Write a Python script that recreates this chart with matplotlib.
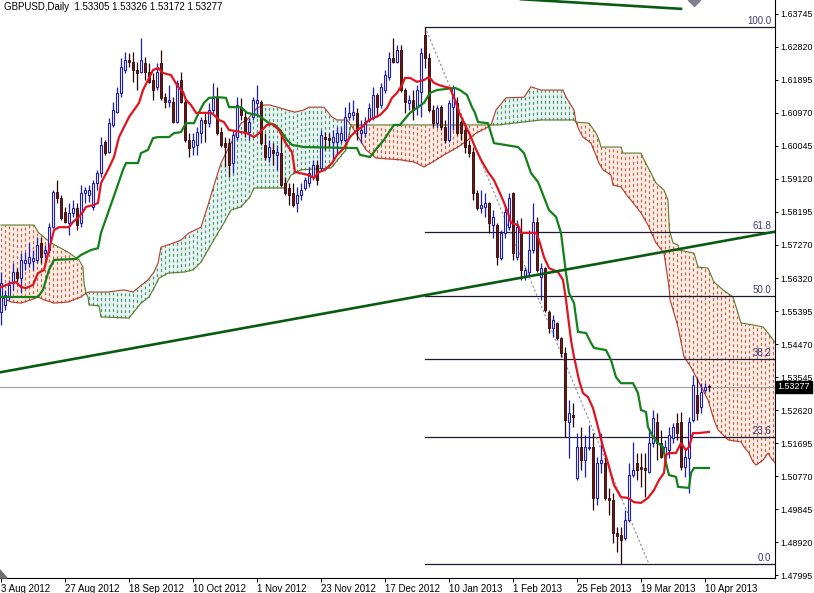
import numpy as np
import matplotlib
matplotlib.use('Agg')
import matplotlib.pyplot as plt
from matplotlib.patches import Polygon

plt.rcParams['font.family'] = ['Liberation Sans', 'DejaVu Sans']
plt.rcParams['font.size'] = 7

########################################################################################################################
# DATA
########################################################################################################################

HEADER = 'GBPUSD,Daily  1.53305 1.53326 1.53172 1.53277'
LAST_PRICE = 1.53277

opens = [1.5538, 1.5558, 1.5580, 1.5619, 1.5650, 1.5633, 1.5675, 1.5675, 1.5681, 1.5684,
         1.5732, 1.5703, 1.5712, 1.5776, 1.5875, 1.5858, 1.5819, 1.5788, 1.5816, 1.5830,
         1.5788, 1.5872, 1.5866, 1.5833, 1.5900, 1.5928, 1.6015, 1.5987, 1.6063, 1.6099,
         1.6153, 1.6217, 1.6245, 1.6240, 1.6217, 1.6212, 1.6237, 1.6212, 1.6189, 1.6170,
         1.6237, 1.6141, 1.6127, 1.6127, 1.6071, 1.6189, 1.6127, 1.6021, 1.6001, 1.6007,
         1.6040, 1.6077, 1.6068, 1.6105, 1.6139, 1.6043, 1.6012, 1.6012, 1.5956, 1.6029,
         1.6111, 1.6085, 1.6043, 1.6085, 1.6125, 1.6127, 1.6007, 1.5973, 1.5993, 1.5979,
         1.5984, 1.5900, 1.5886, 1.5872, 1.5844, 1.5866, 1.5886, 1.5900, 1.5917, 1.5951,
         1.5942, 1.6029, 1.6026, 1.6015, 1.6015, 1.6021, 1.6021, 1.6085, 1.6091, 1.6097,
         1.6040, 1.6040, 1.6077, 1.6083, 1.6147, 1.6119, 1.6161, 1.6198, 1.6251, 1.6240,
         1.6273, 1.6161, 1.6125, 1.6133, 1.6113, 1.6156, 1.6316, 1.6251, 1.6105, 1.6068,
         1.6113, 1.6057, 1.6021, 1.6113, 1.6125, 1.6071, 1.6049, 1.6007, 1.5987, 1.5872,
         1.5830, 1.5833, 1.5844, 1.5782, 1.5782, 1.5689, 1.5760, 1.5776, 1.5872, 1.5692,
         1.5760, 1.5636, 1.5650, 1.5712, 1.5791, 1.5636, 1.5661, 1.5538, 1.5493, 1.5507,
         1.5465, 1.5423, 1.5229, 1.5249, 1.5072, 1.5159, 1.5122, 1.5156, 1.5159, 1.5016,
         1.5114, 1.5114, 1.5016, 1.5010, 1.4917, 1.4912, 1.4903, 1.4954, 1.5080, 1.5114,
         1.5103, 1.5100, 1.5089, 1.5170, 1.5229, 1.5170, 1.5131, 1.5150, 1.5184, 1.5226,
         1.5229, 1.5103, 1.5128, 1.5235, 1.5305, 1.5271, 1.5319, 1.53305]
highs = [1.5650, 1.5600, 1.5628, 1.5675, 1.5661, 1.5703, 1.5706, 1.5732, 1.5712, 1.5748,
         1.5748, 1.5726, 1.5788, 1.5880, 1.5908, 1.5866, 1.5833, 1.5844, 1.5852, 1.5844,
         1.5894, 1.5889, 1.5894, 1.5908, 1.5937, 1.6029, 1.6021, 1.6083, 1.6127, 1.6170,
         1.6251, 1.6268, 1.6265, 1.6268, 1.6240, 1.6307, 1.6254, 1.6237, 1.6209, 1.6237,
         1.6273, 1.6153, 1.6175, 1.6141, 1.6189, 1.6212, 1.6141, 1.6040, 1.6040, 1.6057,
         1.6085, 1.6097, 1.6125, 1.6181, 1.6170, 1.6057, 1.6029, 1.6026, 1.6049, 1.6141,
         1.6139, 1.6105, 1.6083, 1.6141, 1.6175, 1.6133, 1.6040, 1.6021, 1.6012, 1.6007,
         1.6035, 1.5917, 1.5900, 1.5900, 1.5889, 1.5900, 1.5917, 1.5945, 1.5965, 1.5965,
         1.6049, 1.6043, 1.6040, 1.6049, 1.6057, 1.6057, 1.6113, 1.6127, 1.6133, 1.6111,
         1.6077, 1.6085, 1.6125, 1.6170, 1.6153, 1.6181, 1.6217, 1.6268, 1.6307, 1.6287,
         1.6287, 1.6167, 1.6147, 1.6161, 1.6175, 1.6279, 1.6338, 1.6265, 1.6119, 1.6119,
         1.6119, 1.6077, 1.6133, 1.6175, 1.6141, 1.6077, 1.6068, 1.6021, 1.6001, 1.5880,
         1.5880, 1.5872, 1.5847, 1.5824, 1.5788, 1.5768, 1.5838, 1.5872, 1.5875, 1.5796,
         1.5802, 1.5664, 1.5768, 1.5844, 1.5805, 1.5675, 1.5664, 1.5543, 1.5529, 1.5510,
         1.5468, 1.5440, 1.5291, 1.5282, 1.5198, 1.5215, 1.5193, 1.5221, 1.5198, 1.5131,
         1.5198, 1.5142, 1.5044, 1.5030, 1.4934, 1.4934, 1.4982, 1.5114, 1.5173, 1.5142,
         1.5142, 1.5142, 1.5212, 1.5263, 1.5254, 1.5207, 1.5179, 1.5215, 1.5226, 1.5254,
         1.5257, 1.5150, 1.5243, 1.5361, 1.5353, 1.5339, 1.5339, 1.53326]
lows = [1.5501, 1.5543, 1.5572, 1.5600, 1.5622, 1.5591, 1.5656, 1.5664, 1.5656, 1.5675,
        1.5675, 1.5689, 1.5703, 1.5774, 1.5844, 1.5796, 1.5788, 1.5754, 1.5805, 1.5768,
        1.5776, 1.5844, 1.5847, 1.5824, 1.5880, 1.5917, 1.5979, 1.5984, 1.6057, 1.6097,
        1.6141, 1.6209, 1.6226, 1.6184, 1.6161, 1.6209, 1.6189, 1.6181, 1.6133, 1.6161,
        1.6133, 1.6111, 1.6113, 1.6068, 1.6068, 1.6125, 1.6015, 1.5973, 1.5979, 1.5979,
        1.6012, 1.6015, 1.6057, 1.6097, 1.6035, 1.6001, 1.5945, 1.5917, 1.5928, 1.6021,
        1.6077, 1.6029, 1.6021, 1.6077, 1.6085, 1.6007, 1.5965, 1.5959, 1.5951, 1.5937,
        1.5889, 1.5866, 1.5838, 1.5833, 1.5819, 1.5852, 1.5880, 1.5889, 1.5908, 1.5894,
        1.5937, 1.5993, 1.6001, 1.5965, 1.5984, 1.6012, 1.6015, 1.6077, 1.6077, 1.6021,
        1.6012, 1.6029, 1.6071, 1.6077, 1.6085, 1.6111, 1.6153, 1.6189, 1.6237, 1.6237,
        1.6156, 1.6097, 1.6105, 1.6077, 1.6091, 1.6085, 1.6223, 1.6099, 1.6057, 1.6054,
        1.6049, 1.6012, 1.6015, 1.6049, 1.6035, 1.6021, 1.5984, 1.5973, 1.5852, 1.5824,
        1.5816, 1.5805, 1.5760, 1.5746, 1.5670, 1.5684, 1.5746, 1.5768, 1.5684, 1.5684,
        1.5628, 1.5628, 1.5642, 1.5703, 1.5650, 1.5572, 1.5538, 1.5479, 1.5468, 1.5459,
        1.5412, 1.5187, 1.5128, 1.5215, 1.5066, 1.5094, 1.5075, 1.5150, 1.4982, 1.4996,
        1.5086, 1.5010, 1.4968, 1.4889, 1.4864, 1.4830, 1.4898, 1.4948, 1.5075, 1.5066,
        1.5047, 1.5018, 1.5086, 1.5159, 1.5122, 1.5128, 1.5114, 1.5128, 1.5170, 1.5179,
        1.5094, 1.5075, 1.5030, 1.5229, 1.5235, 1.5254, 1.5313, 1.53172]
closes = [1.5619, 1.5586, 1.5614, 1.5650, 1.5633, 1.5684, 1.5684, 1.5692, 1.5689, 1.5726,
          1.5692, 1.5712, 1.5776, 1.5875, 1.5858, 1.5802, 1.5791, 1.5816, 1.5830, 1.5782,
          1.5872, 1.5880, 1.5880, 1.5900, 1.5928, 1.6007, 1.5984, 1.6068, 1.6105, 1.6153,
          1.6226, 1.6245, 1.6240, 1.6217, 1.6209, 1.6245, 1.6212, 1.6184, 1.6161, 1.6212,
          1.6139, 1.6127, 1.6133, 1.6071, 1.6181, 1.6127, 1.6021, 1.5998, 1.6021, 1.6043,
          1.6077, 1.6068, 1.6105, 1.6139, 1.6040, 1.6007, 1.6001, 1.5951, 1.6035, 1.6119,
          1.6091, 1.6040, 1.6071, 1.6133, 1.6133, 1.6012, 1.5973, 1.6001, 1.5984, 1.5987,
          1.5894, 1.5872, 1.5866, 1.5838, 1.5866, 1.5880, 1.5908, 1.5928, 1.5951, 1.5908,
          1.6035, 1.6024, 1.6021, 1.6029, 1.6040, 1.6040, 1.6085, 1.6097, 1.6099, 1.6049,
          1.6049, 1.6071, 1.6111, 1.6147, 1.6113, 1.6170, 1.6203, 1.6251, 1.6240, 1.6273,
          1.6161, 1.6127, 1.6133, 1.6105, 1.6161, 1.6265, 1.6251, 1.6105, 1.6068, 1.6111,
          1.6057, 1.6021, 1.6125, 1.6167, 1.6040, 1.6040, 1.6001, 1.5984, 1.5872, 1.5830,
          1.5838, 1.5844, 1.5788, 1.5805, 1.5692, 1.5760, 1.5819, 1.5858, 1.5703, 1.5776,
          1.5656, 1.5656, 1.5712, 1.5791, 1.5656, 1.5661, 1.5543, 1.5493, 1.5515, 1.5465,
          1.5423, 1.5235, 1.5254, 1.5243, 1.5159, 1.5122, 1.5159, 1.5159, 1.5016, 1.5114,
          1.5122, 1.5016, 1.5010, 1.4917, 1.4909, 1.4898, 1.4954, 1.5080, 1.5094, 1.5094,
          1.5097, 1.5094, 1.5170, 1.5240, 1.5170, 1.5131, 1.5159, 1.5193, 1.5215, 1.5198,
          1.5103, 1.5131, 1.5229, 1.5333, 1.5254, 1.5313, 1.5327, 1.53277]

# Ichimoku lines, (bar, price) vertices
tenkan = [(0, 1.5608), (2.5, 1.5619), (3.75, 1.5622), (5, 1.5608), (6.25, 1.5605), (8, 1.5614),
          (9.25, 1.5647), (10.75, 1.5656), (12, 1.5712), (13.25, 1.5768), (14.5, 1.5776), (17, 1.5776),
          (18, 1.5791), (19.25, 1.5802), (20.5, 1.5819), (21.25, 1.5833), (23, 1.5838), (24.25, 1.5844),
          (25, 1.5900), (26.75, 1.5937), (28.25, 1.5973), (29.5, 1.6029), (30.75, 1.6057), (32, 1.6085),
          (33.25, 1.6105), (34.5, 1.6125), (35.5, 1.6161), (36.75, 1.6189), (38, 1.6217), (39.25, 1.6223),
          (40.5, 1.6209), (42.5, 1.6203), (44.25, 1.6170), (45.5, 1.6156), (46.25, 1.6133), (47.5, 1.6119),
          (48.75, 1.6097), (52.5, 1.6097), (53.25, 1.6091), (54.5, 1.6077), (55.75, 1.6071), (57, 1.6049),
          (60, 1.6043), (61.5, 1.6040), (63.25, 1.6029), (64.5, 1.6040), (66.5, 1.6063), (67.75, 1.6066),
          (69.5, 1.6049), (71, 1.6015), (72.75, 1.5987), (73.5, 1.5931), (77, 1.5922), (78.25, 1.5914),
          (79.5, 1.5931), (81, 1.5937), (82.75, 1.5956), (84, 1.5979), (85.75, 1.5998), (87.25, 1.6029),
          (89, 1.6049), (90.25, 1.6057), (92, 1.6077), (93.25, 1.6083), (94.75, 1.6091), (96.5, 1.6111),
          (97.75, 1.6139), (99, 1.6153), (100.25, 1.6175), (101, 1.6195), (102.25, 1.6195), (104, 1.6184),
          (105.75, 1.6189), (107, 1.6198), (108.25, 1.6181), (109.5, 1.6175), (111, 1.6170), (112.25, 1.6167),
          (113.5, 1.6133), (114.5, 1.6099), (116, 1.6063), (117.25, 1.6035), (118.5, 1.6001), (120, 1.5965),
          (121.75, 1.5931), (123.25, 1.5908), (125.5, 1.5852), (126.75, 1.5816), (127.5, 1.5788),
          (129.25, 1.5782), (130, 1.5760), (133.75, 1.5760), (134.5, 1.5740), (135.75, 1.5692), (137, 1.5661),
          (139.25, 1.5650), (140.5, 1.5628), (141.25, 1.5572), (142.5, 1.5459), (143.25, 1.5412),
          (144.5, 1.5347), (145.5, 1.5310), (146.75, 1.5299), (148, 1.5268), (149.25, 1.5215), (150.5, 1.5159),
          (151.75, 1.5114), (153.25, 1.5052), (155, 1.5018), (156.75, 1.5016), (158.25, 1.5004), (160, 1.5002),
          (161.75, 1.5016), (163.25, 1.5038), (164.5, 1.5066), (165.75, 1.5086), (166.25, 1.5136),
          (167, 1.5142), (168.75, 1.5142), (170, 1.5170), (171.25, 1.5150), (172, 1.5159), (173, 1.5198),
          (174.25, 1.5198), (177, 1.5201)]
kijun = [(0, 1.5580), (9.25, 1.5580), (10.5, 1.5600), (12, 1.5656), (13.25, 1.5684), (18.75, 1.5687),
         (20, 1.5698), (22.5, 1.5712), (24.25, 1.5717), (25, 1.5760), (26.75, 1.5816), (28.75, 1.5880),
         (30.5, 1.5937), (31.25, 1.5956), (34.25, 1.5956), (35, 1.5984), (36.75, 1.5993), (38, 1.6026),
         (39.25, 1.6029), (42, 1.6029), (43.25, 1.6040), (45, 1.6043), (46.25, 1.6068), (48.25, 1.6068),
         (49.5, 1.6099), (50.75, 1.6125), (52, 1.6139), (54.25, 1.6141), (56.25, 1.6139), (57, 1.6113),
         (60, 1.6113), (61.5, 1.6097), (64, 1.6091), (65.25, 1.6083), (67, 1.6068), (68.5, 1.6063),
         (69.75, 1.6049), (71.5, 1.6021), (72.75, 1.6007), (75.75, 1.6001), (89, 1.5998), (89.75, 1.5979),
         (92.25, 1.5973), (94, 1.5998), (95.75, 1.6021), (97, 1.6043), (98.25, 1.6063), (99.75, 1.6063),
         (100.75, 1.6077), (102.25, 1.6097), (104, 1.6111), (105.75, 1.6125), (107.25, 1.6153), (109, 1.6161),
         (113.5, 1.6167), (114.75, 1.6161), (116.5, 1.6147), (117.75, 1.6113), (118.5, 1.6097),
         (119.25, 1.6071), (121.75, 1.6068), (123.25, 1.6012), (129.25, 1.6001), (130.75, 1.5984),
         (132.5, 1.5928), (134.25, 1.5903), (137, 1.5824), (138.75, 1.5805), (140, 1.5760), (141.25, 1.5647),
         (142, 1.5591), (143.25, 1.5563), (144.25, 1.5482), (146.25, 1.5479), (147.5, 1.5451),
         (148.25, 1.5437), (151.25, 1.5431), (152.5, 1.5403), (153.75, 1.5355), (155, 1.5338), (158, 1.5338),
         (159.25, 1.5310), (160, 1.5263), (161.25, 1.5257), (161.75, 1.5215), (163, 1.5187), (164.25, 1.5170),
         (165.5, 1.5159), (166.25, 1.5114), (167, 1.5080), (168.75, 1.5075), (169.25, 1.5047), (172, 1.5044),
         (172.5, 1.5086), (173.25, 1.5100), (177, 1.5100)]
span_a = [(0, 1.5580), (2.5, 1.5566), (5, 1.5563), (7.5, 1.5572), (9.25, 1.5580), (10.75, 1.5572),
          (13.25, 1.5563), (16.75, 1.5566), (20, 1.5580), (21.25, 1.5591), (22, 1.5594), (26.75, 1.5594),
          (30.75, 1.5600), (33, 1.5594), (34.5, 1.5608), (36.75, 1.5628), (38.25, 1.5650), (39.25, 1.5675),
          (40, 1.5720), (43.25, 1.5732), (45, 1.5740), (47, 1.5760), (50, 1.5776), (51.75, 1.5838),
          (53.25, 1.5894), (55, 1.5956), (57.5, 1.6012), (60, 1.6068), (61.5, 1.6077), (64, 1.6111),
          (65.75, 1.6119), (67.25, 1.6119), (69.75, 1.6111), (71.5, 1.6105), (73.5, 1.6099), (75.75, 1.6105),
          (77, 1.6113), (80.75, 1.6113), (82.75, 1.6085), (84, 1.6077), (86.5, 1.6077), (87.5, 1.6063),
          (89, 1.6035), (91.25, 1.5993), (93.75, 1.5970), (100, 1.5965), (103.25, 1.5959), (105.75, 1.5945),
          (107.5, 1.5956), (110.75, 1.5979), (114.25, 1.6001), (116.75, 1.6021), (118.75, 1.6040),
          (121.25, 1.6054), (122.5, 1.6063), (123.75, 1.6105), (126.25, 1.6139), (130.75, 1.6141),
          (132.5, 1.6170), (135, 1.6161), (140.5, 1.6161), (141.25, 1.6141), (143.25, 1.6105),
          (143.75, 1.6071), (144.5, 1.6049), (145.5, 1.6029), (147.5, 1.6012), (149.5, 1.5956),
          (150.5, 1.5937), (152.5, 1.5922), (153, 1.5894), (155, 1.5889), (156.75, 1.5861), (157.5, 1.5852),
          (160, 1.5816), (161.75, 1.5782), (163.75, 1.5732), (165.75, 1.5703), (167, 1.5608),
          (167.25, 1.5572), (168.25, 1.5535), (169.25, 1.5496), (170.75, 1.5412), (172.5, 1.5383),
          (173.25, 1.5367), (176.75, 1.5291), (178.25, 1.5235), (179.25, 1.5207), (181.75, 1.5179),
          (185, 1.5173), (185.75, 1.5159), (187, 1.5142), (188, 1.5117), (188.75, 1.5108), (190.5, 1.5122),
          (191.75, 1.5142), (192.5, 1.5128), (194, 1.5108)]
span_b = [(0, 1.5782), (8.25, 1.5782), (9.25, 1.5762), (10.75, 1.5748), (12.5, 1.5732), (16.75, 1.5706),
          (19.5, 1.5684), (20.5, 1.5664), (20.75, 1.5619), (21.25, 1.5591), (21.75, 1.5580), (22, 1.5558),
          (24.5, 1.5555), (25, 1.5524), (32, 1.5521), (33, 1.5535), (35, 1.5563), (37, 1.5580),
          (38.25, 1.5605), (39.5, 1.5633), (41.75, 1.5647), (45.75, 1.5650), (48, 1.5656), (50, 1.5678),
          (51.75, 1.5712), (54.25, 1.5760), (55.75, 1.5788), (57.5, 1.5824), (60, 1.5833), (62.25, 1.5861),
          (63.25, 1.5886), (70.75, 1.5886), (72.5, 1.5922), (75, 1.5937), (82.5, 1.5942), (86.25, 1.5993),
          (87.5, 1.6063), (122.5, 1.6063), (124.25, 1.6063), (135, 1.6077), (143.25, 1.6077),
          (143.75, 1.6071), (147, 1.6068), (148.75, 1.6040), (149.5, 1.6021), (150, 1.6001), (155, 1.6001),
          (155.5, 1.5984), (160, 1.5984), (160.75, 1.5965), (162.5, 1.5928), (163.75, 1.5900),
          (165.75, 1.5880), (166.75, 1.5852), (167.1, 1.5768), (168, 1.5732), (169.25, 1.5726),
          (169.5, 1.5712), (173.25, 1.5703), (174.25, 1.5664), (176.75, 1.5661), (178.25, 1.5622),
          (180.5, 1.5600), (183, 1.5580), (185, 1.5507), (188.25, 1.5501), (190.5, 1.5496), (191.75, 1.5479),
          (194, 1.5445)]

# drawn objects
trend_line = [(0, 1.5369), (193.75, 1.5764)]
top_line = [(130, 1.6416), (170, 1.6389)]
fib_high = (106, 1.6338)
fib_low = (162, 1.4830)
fib_levels = [0.0, 23.6, 38.2, 50.0, 61.8, 100.0]

price_ticks = [1.63745, 1.62820, 1.61895, 1.60970, 1.60045, 1.59120, 1.58195, 1.57270, 1.56320,
               1.55395, 1.54470, 1.53545, 1.52620, 1.51695, 1.50770, 1.49845, 1.48920, 1.47995]
date_ticks = [0, 16, 32, 48, 64, 80, 96, 112, 128, 144, 160, 176]
date_labels = ['3 Aug 2012', '27 Aug 2012', '18 Sep 2012', '10 Oct 2012', '1 Nov 2012', '23 Nov 2012',
               '17 Dec 2012', '10 Jan 2013', '1 Feb 2013', '25 Feb 2013', '19 Mar 2013', '10 Apr 2013']

########################################################################################################################
# PLOT
########################################################################################################################

BULL = '#1c1cc0'
BEAR_FILL = '#7a1414'
BEAR_EDGE = '#2a0505'

fig = plt.figure(figsize=(8.14, 5.93), dpi=100)
ax = fig.add_axes([0, 15 / 593, 775 / 814, 578 / 593])
ax.set_xlim(-0.25, 193.5)
ax.set_ylim(1.47911, 1.64138)

# kumo
ax_x, ax_y = zip(*span_a)
bx_x, bx_y = zip(*span_b)
xg = np.linspace(0, 194, 1200)
ag = np.interp(xg, ax_x, ax_y)
bg = np.interp(xg, bx_x, bx_y)
ax.fill_between(xg, ag, bg, where=ag >= bg, color='#e6f3ee', lw=0, interpolate=True, zorder=1)
ax.fill_between(xg, ag, bg, where=ag < bg, color='#fbebe2', lw=0, interpolate=True, zorder=1)
bars = np.arange(0, 195)
a_b = np.interp(bars, ax_x, ax_y)
b_b = np.interp(bars, bx_x, bx_y)
up = a_b >= b_b
ax.vlines(bars[up], b_b[up], a_b[up], colors='#3d9278', linestyles=(0, (2.5, 2.5)), lw=0.8, zorder=2)
ax.vlines(bars[~up], a_b[~up], b_b[~up], colors='#c65a45', linestyles=(0, (2.5, 2.5)), lw=0.8, zorder=2)
ax.plot(ax_x, ax_y, color='#b23a28', lw=0.8, zorder=3)
ax.plot(bx_x, bx_y, color='#5b7a28', lw=0.8, zorder=3)

# current price line
ax.axhline(LAST_PRICE, color='#a0a0a0', lw=0.8, zorder=2)

# fibonacci
rng = fib_high[1] - fib_low[1]
for lvl in fib_levels:
    p = fib_low[1] + rng * lvl / 100.0
    ax.plot([fib_high[0], 200], [p, p], color='#1a1a30', lw=0.9, zorder=4)
    ax.text(0.995, p + 0.0003, '%.1f' % lvl, transform=ax.get_yaxis_transform(), ha='right', va='bottom',
            color='#3c3c70', fontsize=7, zorder=6)
ax.plot([fib_high[0], fib_low[0]], [fib_high[1], fib_low[1]], color='#8a8aa8', lw=0.8,
        linestyle=(0, (2, 2)), zorder=4)

# candles
for i in range(len(opens)):
    o, h, l, c = opens[i], highs[i], lows[i], closes[i]
    if c >= o:
        ax.vlines(i, l, h, color=BULL, lw=0.9, zorder=5)
        ax.bar(i, max(c - o, 0.00004), bottom=o, width=0.55, color='white', edgecolor=BULL, lw=0.8, zorder=6)
    else:
        ax.vlines(i, l, h, color=BEAR_EDGE, lw=0.9, zorder=5)
        ax.bar(i, o - c, bottom=c, width=0.55, color=BEAR_FILL, edgecolor=BEAR_EDGE, lw=0.6, zorder=6)

# tenkan / kijun
ax.plot(*zip(*kijun), color='#13801a', lw=1.6, zorder=7, solid_joinstyle='round')
ax.plot(*zip(*tenkan), color='#e0141e', lw=1.6, zorder=8, solid_joinstyle='round')

# trend lines
ax.plot(*zip(*trend_line), color='#0b5a12', lw=1.9, zorder=9)
ax.plot(*zip(*top_line), color='#0b5a12', lw=1.9, zorder=9)
ax.plot(173.25, 1.6414, marker='D', ms=6, color='#808090', zorder=9)

# axes cosmetics
for s in ['left', 'top']:
    ax.spines[s].set_visible(False)
for s in ['right', 'bottom']:
    ax.spines[s].set_linewidth(0.8)
ax.yaxis.tick_right()
ax.set_yticks(price_ticks)
ax.set_yticklabels(['%.5f' % v for v in price_ticks])
ax.tick_params(axis='y', direction='out', length=2.5, width=0.7, pad=1, labelsize=6.4)
ax.set_xticks(date_ticks)
ax.set_xticklabels(date_labels, ha='left')
ax.tick_params(axis='x', direction='out', length=3, width=0.7, pad=1.5, labelsize=7)

ax.text(1.003, LAST_PRICE, '1.53277', transform=ax.get_yaxis_transform(), ha='left', va='center', color='white',
        fontsize=6.4, bbox=dict(boxstyle='square,pad=0.2', fc='black', ec='black'), zorder=10)
ax.add_patch(Polygon([(0, 0), (0, 8 / 578), (7 / 775, 0)], closed=True, transform=ax.transAxes,
                     color='#707070', clip_on=False, zorder=10))

fig.text(4 / 814, 1 - 7 / 593, HEADER, ha='left', va='center', fontsize=7)

fig.savefig('out.png', dpi=100)
